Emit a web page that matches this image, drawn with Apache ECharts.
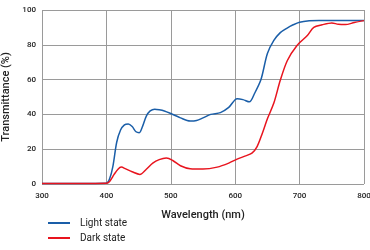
<!DOCTYPE html>
<html><head><meta charset="utf-8">
<script src="https://cdn.jsdelivr.net/npm/echarts@6/dist/echarts.min.js"></script>
<style>html,body{margin:0;padding:0;background:#fff}#c{width:370px;height:250px}</style>
</head><body><div id="c"></div>
<script>
const xTicks = [300, 400, 500, 600, 700, 800];
const yTicks = [0, 20, 40, 60, 80, 100];
const seriesNames = ['Light state', 'Dark state'];
const lightX = [300, 400, 405, 410, 416, 422, 428, 434, 440, 446, 451, 456, 462, 468, 475, 482, 490, 500, 515, 530, 540, 550, 562, 577, 590, 603, 612, 622, 630, 640, 650, 660, 670, 680, 690, 700, 715, 730, 760, 800];
const lightY = [0.3, 0.5, 3, 10, 24, 31, 34, 34.5, 33, 30, 29.5, 33, 39, 42, 43, 42.7, 42, 40.5, 38, 36.2, 36.5, 38, 40, 41, 44, 49, 48.5, 47.2, 52, 60, 75, 82.5, 87, 89.5, 91.5, 93, 93.8, 94, 94, 94];
const darkX = [300, 400, 405, 412, 418, 423, 430, 440, 452, 462, 472, 482, 493, 503, 515, 530, 550, 572, 590, 603, 615, 626, 634, 642, 650, 660, 670, 681, 696, 712, 722, 735, 750, 760, 771, 785, 800];
const darkY = [0.3, 0.5, 1.5, 5.5, 8.5, 9.7, 8.7, 7, 5.5, 8.5, 12, 14, 14.9, 13.5, 10.5, 8.8, 8.6, 9.7, 12, 14.3, 16, 17.7, 21.5, 29, 37.5, 46.5, 59.6, 71, 79.6, 85.3, 90, 91.5, 92.6, 91.8, 91.6, 92.8, 93.9];

const pair = (xs, ys) => xs.map((x, i) => [x, ys[i]]);
const chart = echarts.init(document.getElementById('c'));
const font = 'Roboto';
chart.setOption({
  animation: false,
  grid: { left: 42, right: 6, top: 10, bottom: 66, containLabel: false, outerBoundsMode: 'none' },
  xAxis: {
    type: 'value', min: xTicks[0], max: xTicks[xTicks.length - 1], interval: 100,
    name: 'Wavelength (nm)', nameLocation: 'middle', nameGap: 26,
    nameTextStyle: { fontFamily: font, fontSize: 11, color: '#222', fontWeight: 500 },
    axisLine: { show: false }, axisTick: { show: false },
    axisLabel: { fontFamily: font, fontSize: 8, color: '#222', fontWeight: 500, margin: 8 },
    splitLine: { show: true, lineStyle: { color: '#9a9a9a', width: 1 } }
  },
  yAxis: {
    type: 'value', min: yTicks[0], max: yTicks[yTicks.length - 1], interval: 20,
    name: 'Transmittance (%)', nameLocation: 'middle', nameGap: 30,
    nameTextStyle: { fontFamily: font, fontSize: 11, color: '#222', fontWeight: 500 },
    axisLine: { show: false }, axisTick: { show: false },
    axisLabel: { fontFamily: font, fontSize: 8, color: '#222', fontWeight: 500, margin: 6 },
    splitLine: { show: true, lineStyle: { color: '#9a9a9a', width: 1 } }
  },
  legend: {
    orient: 'vertical', left: 43, top: 213, itemWidth: 22, itemHeight: 2, itemGap: 5,
    icon: 'rect',
    textStyle: { fontFamily: font, fontSize: 10, color: '#222', padding: [0, 0, 0, 5] },
    data: seriesNames
  },
  series: [
    { name: seriesNames[0], type: 'line', data: pair(lightX, lightY), smooth: 0.3, showSymbol: false,
      lineStyle: { color: '#1a5ea8', width: 1.5 }, itemStyle: { color: '#1a5ea8' } },
    { name: seriesNames[1], type: 'line', data: pair(darkX, darkY), smooth: 0.3, showSymbol: false,
      lineStyle: { color: '#e8141e', width: 1.5 }, itemStyle: { color: '#e8141e' } }
  ]
});
</script></body></html>
